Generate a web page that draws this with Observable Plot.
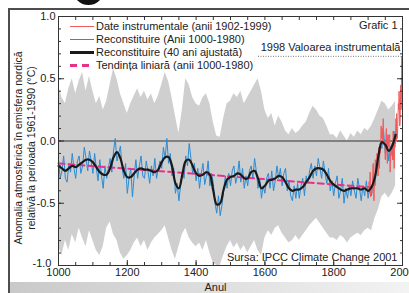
<!DOCTYPE html>
<html><head><meta charset="utf-8">
<script src="https://cdn.jsdelivr.net/npm/d3@7"></script>
<script src="https://cdn.jsdelivr.net/npm/@observablehq/plot@0.6"></script>
<style>
html,body{margin:0;padding:0;background:#fff;}
#wrap{position:relative;width:409px;height:293px;overflow:hidden;background:#fff;font-family:"Liberation Sans",Arial,Helvetica,sans-serif;}
#frame{position:absolute;left:8px;top:8px;width:430px;height:320px;border:2.5px solid #4d4d4d;box-sizing:border-box;}
#band{position:absolute;left:10px;top:282px;width:399px;height:11px;background:linear-gradient(to right,#c9c9c9,#e0e0e0 55%,#f3f3f3);}
#dot{position:absolute;left:73px;top:-26px;width:31px;height:31px;border-radius:50%;background:#111;}
#chart{position:absolute;left:0;top:0;}
#legend{position:absolute;left:70px;top:19.5px;font-size:11px;line-height:13px;color:#222;}
#legend .row{display:flex;align-items:center;height:13px;white-space:nowrap;}
#legend svg{display:block;margin-right:2px;}
</style>
</head><body>
<div id="wrap">
  <div id="frame"></div>
  <div id="band"></div>
  <div id="dot"></div>
  <div id="chart"></div>
  <div id="legend"></div>
</div>
<script>
// ---- data ----
const blueStart = 1000, blueStep = 5;
const blueValues = [
 -0.15,-0.30,-0.24,-0.12,-0.30,-0.33,-0.18,-0.25,-0.10,-0.22,
 -0.30,-0.16,-0.12,-0.26,-0.20,-0.05,-0.14,-0.24,-0.08,-0.16,
 -0.26,-0.10,-0.22,-0.32,-0.15,-0.28,-0.38,-0.20,-0.30,-0.22,
 -0.14,-0.25,-0.08,0.02,-0.16,-0.10,-0.04,-0.22,-0.30,-0.18,
 -0.42,-0.30,-0.22,-0.45,-0.28,-0.15,-0.30,-0.20,-0.12,-0.28,
 -0.30,-0.16,-0.24,-0.34,-0.20,-0.28,-0.14,-0.30,-0.22,-0.16,
 -0.22,-0.05,-0.14,0.02,-0.18,-0.10,-0.28,-0.22,-0.42,-0.34,
 -0.48,-0.36,-0.25,-0.30,-0.12,-0.20,-0.02,-0.14,-0.26,-0.18,
 -0.32,-0.22,-0.38,-0.26,-0.18,-0.35,-0.28,-0.16,-0.36,-0.26,
 -0.34,-0.50,-0.58,-0.44,-0.60,-0.52,-0.40,-0.28,-0.38,-0.26,
 -0.36,-0.24,-0.20,-0.34,-0.28,-0.16,-0.33,-0.22,-0.38,-0.28,
 -0.36,-0.24,-0.20,-0.30,-0.14,-0.24,-0.38,-0.30,-0.46,-0.36,
 -0.42,-0.30,-0.26,-0.38,-0.24,-0.40,-0.32,-0.20,-0.30,-0.22,
 -0.36,-0.26,-0.22,-0.40,-0.32,-0.44,-0.48,-0.36,-0.46,-0.34,
 -0.46,-0.36,-0.30,-0.44,-0.28,-0.34,-0.24,-0.18,-0.30,-0.20,
 -0.28,-0.14,-0.22,-0.30,-0.16,-0.26,-0.34,-0.22,-0.40,-0.32,
 -0.44,-0.34,-0.28,-0.46,-0.40,-0.30,-0.50,-0.38,-0.46,-0.36,
 -0.44,-0.32,-0.40,-0.46,-0.30,-0.38,-0.48,-0.36,-0.44,-0.32,
 -0.46,-0.36,-0.44,-0.28,-0.36,-0.18,-0.20,-0.02,-0.06,0.08,
 -0.10,0.02,-0.16,-0.04,-0.12,0.08,-0.02
];
const smoothStart = 1000, smoothStep = 10;
const smoothValues = [
 -0.20,-0.22,-0.24,-0.22,-0.20,-0.21,-0.19,-0.17,-0.15,-0.15,
 -0.17,-0.21,-0.25,-0.27,-0.27,-0.22,-0.13,-0.09,-0.14,-0.24,
 -0.29,-0.29,-0.26,-0.23,-0.22,-0.23,-0.23,-0.24,-0.25,-0.23,
 -0.17,-0.13,-0.13,-0.20,-0.34,-0.38,-0.27,-0.16,-0.15,-0.20,
 -0.26,-0.28,-0.27,-0.25,-0.27,-0.40,-0.51,-0.50,-0.39,-0.31,
 -0.29,-0.28,-0.26,-0.27,-0.30,-0.30,-0.25,-0.24,-0.30,-0.38,
 -0.36,-0.32,-0.31,-0.30,-0.28,-0.29,-0.33,-0.38,-0.40,-0.39,
 -0.39,-0.37,-0.33,-0.29,-0.24,-0.22,-0.22,-0.23,-0.27,-0.32,
 -0.35,-0.37,-0.39,-0.40,-0.39,-0.38,-0.38,-0.38,-0.39,-0.38,
 -0.40,-0.37,-0.29,-0.12,-0.01,-0.03,-0.08,-0.04,0.05
];
const bandStart = 1000, bandStep = 10;
const bandUpper = [
 0.45,0.35,0.30,0.42,0.50,0.38,0.48,0.55,0.40,0.52,
 0.40,0.30,0.36,0.25,0.32,0.45,0.58,0.50,0.38,0.30,
 0.22,0.30,0.36,0.42,0.35,0.40,0.33,0.38,0.30,0.36,
 0.45,0.55,0.48,0.35,0.20,0.06,0.25,0.50,0.45,0.35,
 0.30,0.28,0.35,0.38,0.30,0.15,0.04,0.03,0.18,0.30,
 0.32,0.38,0.35,0.40,0.30,0.35,0.40,0.45,0.50,0.40,
 0.25,0.18,0.22,0.12,0.20,0.15,0.08,0.05,0.10,0.06,
 0.08,0.12,0.15,0.22,0.28,0.25,0.20,0.18,0.12,0.05,
 0.05,0.02,0.08,0.04,0.00,0.06,0.03,0.08,0.05,0.10,
 0.08,0.12,0.18,0.25,0.32,0.30,0.25,0.28,0.32
];
const bandLower = [
 -0.85,-0.92,-0.80,-0.88,-0.75,-0.82,-0.70,-0.78,-0.85,-0.72,
 -0.80,-0.88,-0.92,-0.85,-0.70,-0.65,-0.75,-0.80,-0.90,-0.95,
 -0.92,-0.88,-0.82,-0.78,-0.85,-0.80,-0.88,-0.82,-0.78,-0.75,
 -0.72,-0.68,-0.78,-0.88,-0.95,-0.85,-0.75,-0.70,-0.78,-0.82,
 -0.85,-0.82,-0.88,-0.80,-0.90,-0.98,-1.00,-1.00,-0.92,-0.85,
 -0.80,-0.86,-0.82,-0.88,-0.84,-0.90,-0.85,-0.80,-0.88,-0.92,
 -0.78,-0.72,-0.76,-0.70,-0.68,-0.74,-0.78,-0.82,-0.80,-0.76,
 -0.80,-0.76,-0.72,-0.68,-0.65,-0.62,-0.66,-0.70,-0.74,-0.78,
 -0.78,-0.80,-0.76,-0.78,-0.82,-0.78,-0.76,-0.74,-0.76,-0.72,
 -0.70,-0.72,-0.62,-0.55,-0.45,-0.42,-0.46,-0.42,-0.36
];
const instrStart = 1902;
const instrValues = [
 -0.33,-0.40,-0.42,-0.35,-0.25,-0.45,-0.40,-0.42,-0.40,-0.42,
 -0.38,-0.37,-0.20,-0.18,-0.35,-0.48,-0.35,-0.28,-0.25,-0.15,
 -0.25,-0.25,-0.25,-0.18,-0.10,-0.15,-0.15,-0.28,-0.10,-0.05,
 -0.08,-0.22,-0.08,-0.10,-0.08,0.02,0.12,0.02,0.05,0.10,
 0.00,0.05,0.18,-0.02,-0.03,0.00,-0.02,-0.05,-0.15,-0.05,
 0.02,0.10,-0.08,-0.12,-0.18,0.05,0.05,0.02,-0.05,0.05,
 0.03,0.05,-0.25,-0.15,-0.08,-0.05,-0.10,-0.02,-0.05,-0.15,
 -0.12,0.08,-0.15,-0.10,-0.22,0.05,-0.05,0.02,0.08,0.18,
 0.00,0.22,0.05,0.02,0.10,0.20,0.30,0.25,0.40,0.35,
 0.12,0.15,0.30,0.45,0.25,0.45,0.68,0.55
];
const trendYears = [1000, 1900];
const trendValues = [-0.18, -0.37];
const value1998 = 0.68;

const xTicks = [1000, 1200, 1400, 1600, 1800, 2000];
const xTickLabels = ["1000", "1200", "1400", "1600", "1800", "2000"];
const xMinorTicks = d3.range(1000, 2001, 50);
const yTicks = [-1, -0.5, 0, 0.5, 1];
const yTickLabels = ["-1.0", "-0.5", "0.0", "0.5", "1.0"];
const yMinorTicks = d3.range(-10, 11).map(d => d / 10);

const legendLabels = [
  "Date instrumentale (anii 1902-1999)",
  "Reconstituire (Anii 1000-1980)",
  "Reconstituire (40 ani ajustată)",
  "Tendința liniară (anii 1000-1980)"
];
const legendColors = ["#f05a5a", "#2b8bd3", "#1a1a1a", "#e5338c"];
const legendWidths = [1, 1, 3, 3];
const legendDash = [null, null, null, "7,5"];

const yTitle = ["Anomalia atmosferică în emisfera nordică", "relativă la perioada 1961-1990 (°C)"];

// ---- tables ----
const blue = blueValues.map((v, i) => ({year: blueStart + i * blueStep, value: v}));
const smooth = smoothValues.map((v, i) => ({year: smoothStart + i * smoothStep, value: v}));
const band = bandUpper.map((u, i) => ({year: bandStart + i * bandStep, upper: u, lower: bandLower[i]}));
const instr = instrValues.map((v, i) => ({year: instrStart + i, value: v}));
const trend = trendYears.map((y, i) => ({year: y, value: trendValues[i]}));

const font = '"Liberation Sans", Arial, Helvetica, sans-serif';
const ink = "#222";
const yLabelFmt = d => yTickLabels[yTicks.indexOf(d)];

const plot = Plot.plot({
  width: 409, height: 293,
  marginTop: 16, marginRight: 7, marginBottom: 28, marginLeft: 58,
  style: {background: "transparent", fontFamily: font, fontSize: "11px", color: ink, overflow: "visible"},
  x: {domain: [1000, 2000]},
  y: {domain: [-1, 1]},
  marks: [
    Plot.areaY(band, {x: "year", y1: "lower", y2: "upper", fill: "#cfcfcf"}),
    Plot.ruleY([0], {stroke: "#333", strokeWidth: 1}),
    Plot.line(blue, {x: "year", y: "value", stroke: "#2b8bd3", strokeWidth: 1}),
    Plot.line(instr, {x: "year", y: "value", stroke: "#f05a5a", strokeWidth: 1}),
    Plot.line(trend, {x: "year", y: "value", stroke: "#e5338c", strokeWidth: 2, strokeDasharray: "6,4"}),
    Plot.line(smooth, {x: "year", y: "value", stroke: "#1a1a1a", strokeWidth: 2.2, curve: "catmull-rom"}),
    Plot.ruleY([value1998], {stroke: "#777", strokeDasharray: "1,1.5", insetLeft: 200}),
    Plot.frame({stroke: "#333"}),
    Plot.axisX(xTicks, {anchor: "bottom", tickSize: 0, tickPadding: 3, tickFormat: d => xTickLabels[xTicks.indexOf(d)], label: null, fill: ink}),
    Plot.axisX(xMinorTicks, {anchor: "bottom", tickSize: -3, tickFormat: () => "", label: null, stroke: "#333"}),
    Plot.axisX(xTicks, {anchor: "bottom", tickSize: -5, tickFormat: () => "", label: null, stroke: "#333"}),
    Plot.axisX(xMinorTicks, {anchor: "top", tickSize: -3, tickFormat: () => "", label: null, stroke: "#333"}),
    Plot.axisY(yTicks.slice(1), {anchor: "left", tickSize: 0, tickPadding: 3, tickFormat: yLabelFmt, label: null, fill: ink}),
    Plot.axisY(yTicks.slice(0, 1), {anchor: "left", tickSize: 0, tickPadding: 7, dy: -2, tickFormat: yLabelFmt, label: null, fill: ink}),
    Plot.axisY(yMinorTicks, {anchor: "left", tickSize: -3, tickFormat: () => "", label: null, stroke: "#333"}),
    Plot.axisY(yTicks, {anchor: "left", tickSize: -6, tickFormat: () => "", label: null, stroke: "#333"}),
    Plot.axisY(yMinorTicks, {anchor: "right", tickSize: -3, tickFormat: () => "", label: null, stroke: "#333"}),
    Plot.axisY(yTicks, {anchor: "right", tickSize: -6, tickFormat: () => "", label: null, stroke: "#333"}),
    Plot.text(["Grafic 1"], {text: d => d, frameAnchor: "top-right", dx: -5, dy: 9, textAnchor: "end", lineAnchor: "middle", fill: ink, fontSize: 11}),
    Plot.text([value1998], {y: d => d, text: () => "1998 Valoarea instrumentală", frameAnchor: "right", dx: -2, dy: -9, textAnchor: "end", lineAnchor: "middle", fill: ink, fontSize: 11}),
    Plot.text(["Sursa: IPCC Climate Change 2001"], {text: d => d, frameAnchor: "bottom-right", dx: -5, dy: -8, textAnchor: "end", lineAnchor: "middle", fill: ink, fontSize: 11}),
    Plot.text(["Anul"], {text: d => d, frameAnchor: "bottom", dx: -15, dy: 22, textAnchor: "middle", lineAnchor: "middle", fill: ink, fontSize: 11}),
    Plot.text([yTitle[0]], {text: d => d, frameAnchor: "left", rotate: -90, dx: -40, dy: 7, textAnchor: "middle", lineAnchor: "middle", fill: ink, fontSize: 10.5}),
    Plot.text([yTitle[1]], {text: d => d, frameAnchor: "left", rotate: -90, dx: -27, dy: 7, textAnchor: "middle", lineAnchor: "middle", fill: ink, fontSize: 10.5})
  ]
});
document.getElementById("chart").appendChild(plot);

// legend (inside plot, top-left)
const leg = document.getElementById("legend");
legendLabels.forEach((label, i) => {
  const row = document.createElement("div");
  row.className = "row";
  const dash = legendDash[i] ? ` stroke-dasharray="${legendDash[i]}"` : "";
  row.innerHTML = `<svg width="24" height="13"><line x1="0" x2="24" y1="6.5" y2="6.5" stroke="${legendColors[i]}" stroke-width="${legendWidths[i]}"${dash}/></svg><span>${label}</span>`;
  leg.appendChild(row);
});
</script>
</body></html>
